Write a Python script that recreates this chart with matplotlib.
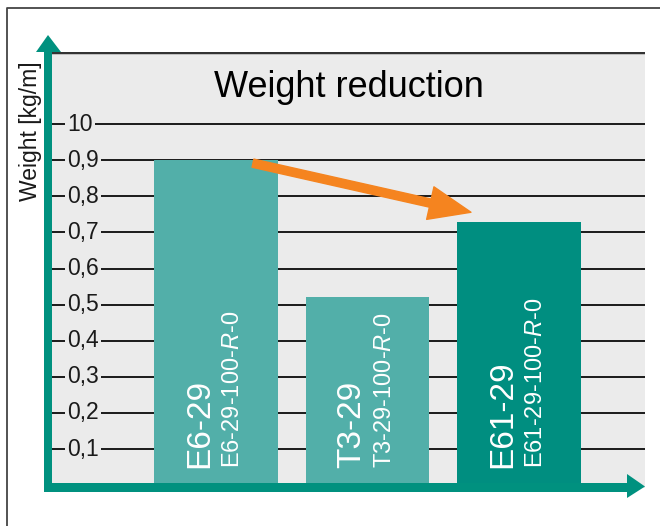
import matplotlib
matplotlib.use("Agg")
import matplotlib.pyplot as plt
from matplotlib.patches import Polygon
from matplotlib.lines import Line2D

plt.rcParams['font.family'] = ['Liberation Sans', 'DejaVu Sans']
plt.rcParams['mathtext.fontset'] = 'custom'
plt.rcParams['mathtext.rm'] = 'Liberation Sans'
plt.rcParams['mathtext.it'] = 'Liberation Sans:italic'

# ---- data ----
names = ["E6-29", "T3-29", "E61-29"]
codes = ["E6-29-100-$\\mathit{R}$-0", "T3-29-100-$\\mathit{R}$-0", "E61-29-100-$\\mathit{R}$-0"]
weights = [0.90, 0.52, 0.73]
bar_colors = ["#52AFA9", "#52AFA9", "#008E80"]
tick_values = [0.1, 0.2, 0.3, 0.4, 0.5, 0.6, 0.7, 0.8, 0.9, 1.0]
tick_labels = ["0,1", "0,2", "0,3", "0,4", "0,5", "0,6", "0,7", "0,8", "0,9", "10"]
title = "Weight reduction"
ylabel = "Weight [kg/m]"
arrow_from = (0.244, 0.892)
arrow_to = (1.683, 0.756)

W, H = 660, 526
fig = plt.figure(figsize=(W / 100, H / 100), dpi=100)

def px(x0, y0, x1, y1):
    return [x0 / W, 1 - y1 / H, (x1 - x0) / W, (y1 - y0) / H]

ax = fig.add_axes(px(45, 52, 645, 488))
ax.set_facecolor("#EBEBEB")
for s in ax.spines.values():
    s.set_visible(False)
ax.set_xticks([])
ax.set_yticks([])
ax.set_xlim(-1.129, 2.832)
ax.set_ylim(-0.008, 1.2)

teal = "#00917F"
grid_c = "#1a1a1a"

# grid lines
for v in tick_values:
    ax.axhline(v, color=grid_c, lw=1.4, zorder=1)
ax.axhline(1.2, color="#333333", lw=2.5, zorder=1)

# tick labels sitting on grid lines
for v, lab in zip(tick_values, tick_labels):
    ax.text(0.0367, v, lab, transform=ax.get_yaxis_transform(), ha="left", va="center",
            fontsize=16.5, color="#1a1a1a", zorder=2,
            bbox=dict(boxstyle="square,pad=0.1", fc="#EBEBEB", ec="none"))

# bars
xs = list(range(len(names)))
ax.bar(xs, weights, width=0.818, color=bar_colors, zorder=3)

for x, n, c in zip(xs, names, codes):
    ax.text(x - 0.107, 0.047, n, rotation=90, ha="center", va="bottom",
            color="white", fontsize=24, zorder=4)
    ax.text(x + 0.115, 0.047, c, rotation=90, ha="center", va="bottom",
            color="white", fontsize=17, zorder=4)

# title
ax.text(0.878, 1.075, title, ha="center", va="baseline", fontsize=26, color="black", zorder=4)

# orange arrow
ax.annotate("", xy=arrow_to, xytext=arrow_from,
            arrowprops=dict(arrowstyle="simple,head_width=2.4,head_length=3.0,tail_width=0.6",
                            mutation_scale=10, color="#F5841F", shrinkA=0, shrinkB=0),
            zorder=5)

# teal axes arrows (figure pixel coordinates)
def P(x, y):
    return (x / W, 1 - y / H)

fig.add_artist(Polygon([P(44, 492), P(52, 492), P(52, 52), P(61, 52), P(48, 35), P(36, 52), P(44, 52)],
                       closed=True, fc=teal, ec="none", transform=fig.transFigure))
fig.add_artist(Polygon([P(44, 483), P(627, 483), P(627, 474), P(645, 486.5), P(627, 498), P(627, 492), P(44, 492)],
                       closed=True, fc=teal, ec="none", transform=fig.transFigure))

# outer frame
fig.add_artist(Line2D([7 / W, 7 / W, 1], [0, 1 - 8 / H, 1 - 8 / H], color="#444444", lw=1.3,
                      transform=fig.transFigure))

# y label
fig.text(31 / W, 1 - 131 / H, ylabel, rotation=90, ha="center", va="center", fontsize=16.5, color="#1a1a1a")

fig.savefig("out.png", dpi=100)
